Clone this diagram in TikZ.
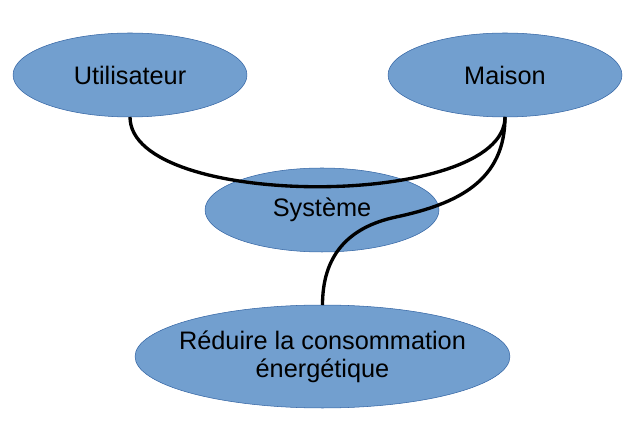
\documentclass[tikz,border=0pt]{standalone}
\usepackage{fontspec}
\setmainfont{Liberation Sans}
\usetikzlibrary{shapes.geometric}
\definecolor{bubble}{HTML}{729FCF}
\definecolor{bubbleline}{HTML}{3465A4}

\begin{document}
\begin{tikzpicture}[x=0.02cm, y=0.02cm,
    bulle/.style={ellipse, fill=bubble, draw=bubbleline, line width=0.3pt,
      inner sep=0pt, outer sep=0pt, minimum width=4.68cm, minimum height=1.68cm,
      font=\fontsize{14.4}{16}\selectfont, align=center},
    lien/.style={black, line width=1.9pt}]
          \useasboundingbox (0, 0) rectangle (628, -438);
          \node [bulle] (user) at (130, -75) {Utilisateur};
          \node [bulle] (maison) at (505, -75) {Maison};
          \node [bulle] (systeme) at (322, -210) {Système};
          \node [bulle, inner xsep=-12pt, minimum width=7.5cm, minimum height=2.06cm] (but) at (322.5, -356.5)
            {Réduire la consommation\\énergétique};
          \coordinate (pli) at (396, -217);

          \draw [lien] (user.south) .. controls (130, -210) and (505, -210) .. (maison.south);
          \draw [lien] (maison.south) to [out=-90, in=12, looseness=1.1] (pli) to [out=192, in=90, looseness=1.1] (but.north);
        \end{tikzpicture}
\end{document}
